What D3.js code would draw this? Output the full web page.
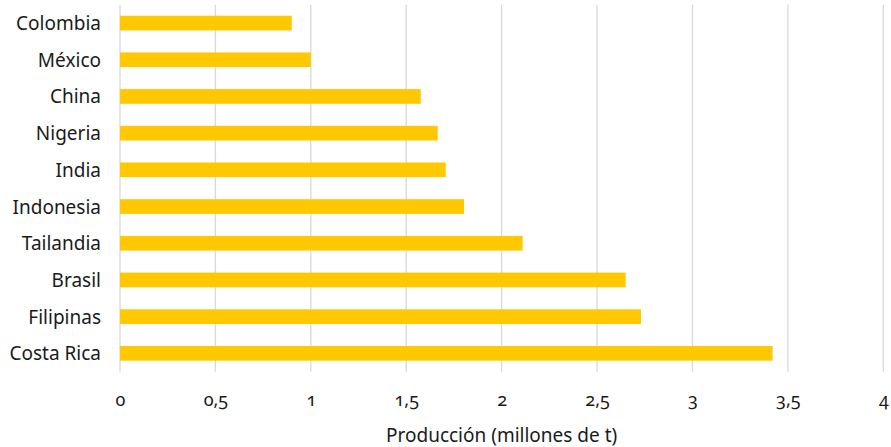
<!DOCTYPE html>
<html><head><meta charset="utf-8">
<script src="https://cdn.jsdelivr.net/npm/d3@7"></script>
<style>
body{margin:0;background:#fff;}
text{font-family:"Noto Sans",sans-serif;fill:#1a1a1a;}
.tick text{font-variant-numeric:oldstyle-nums;font-feature-settings:"onum" 1;}
</style></head>
<body><svg id="c" width="891" height="447"></svg>
<script>
const countries = ["Colombia","México","China","Nigeria","India","Indonesia","Tailandia","Brasil","Filipinas","Costa Rica"];
const production = [0.90,1.00,1.576,1.665,1.707,1.803,2.11,2.65,2.73,3.42];
const xTicks = [0,0.5,1,1.5,2,2.5,3,3.5,4];
const xTitle = "Producción (millones de t)";

const svg = d3.select("#c");
const m = {left:120, right:891-883.3, top:4.7, bottom:447-371.7};
const W = 891, H = 447;
const x = d3.scaleLinear().domain([0,4]).range([m.left, W-m.right]);
const y = d3.scaleBand().domain(countries).range([m.top, H-m.bottom]).paddingInner(0.6).paddingOuter(0.3);

// gridlines
svg.append("g").selectAll("line").data(xTicks).join("line")
  .attr("x1",d=>x(d)).attr("x2",d=>x(d))
  .attr("y1",m.top).attr("y2",H-m.bottom)
  .attr("stroke","#d9d9d9").attr("stroke-width",1.3);

// bars
svg.append("g").selectAll("rect").data(countries).join("rect")
  .attr("x",x(0)).attr("y",d=>y(d))
  .attr("width",(d,i)=>x(production[i])-x(0))
  .attr("height",y.bandwidth())
  .attr("fill","#FFC800");

// y labels
svg.append("g").selectAll("text").data(countries).join("text")
  .attr("x",101).attr("y",d=>y(d)+y.bandwidth()/2)
  .attr("text-anchor","end").attr("dominant-baseline","central")
  .attr("font-size",19).text(d=>d);

// x axis
const xa = svg.append("g").attr("transform",`translate(0,${H-m.bottom})`)
  .call(d3.axisBottom(x).tickValues(xTicks).tickSize(0).tickPadding(22)
    .tickFormat(d=>String(d).replace(".",",")));
xa.select(".domain").remove();
xa.selectAll("text").attr("font-size",18).attr("fill","#1a1a1a").style("font-family",'"Noto Sans",sans-serif');

svg.append("text").attr("x",(x(0)+x(4))/2).attr("y",441.5)
  .attr("text-anchor","middle")
  .attr("font-size",19).text(xTitle);
</script></body></html>
